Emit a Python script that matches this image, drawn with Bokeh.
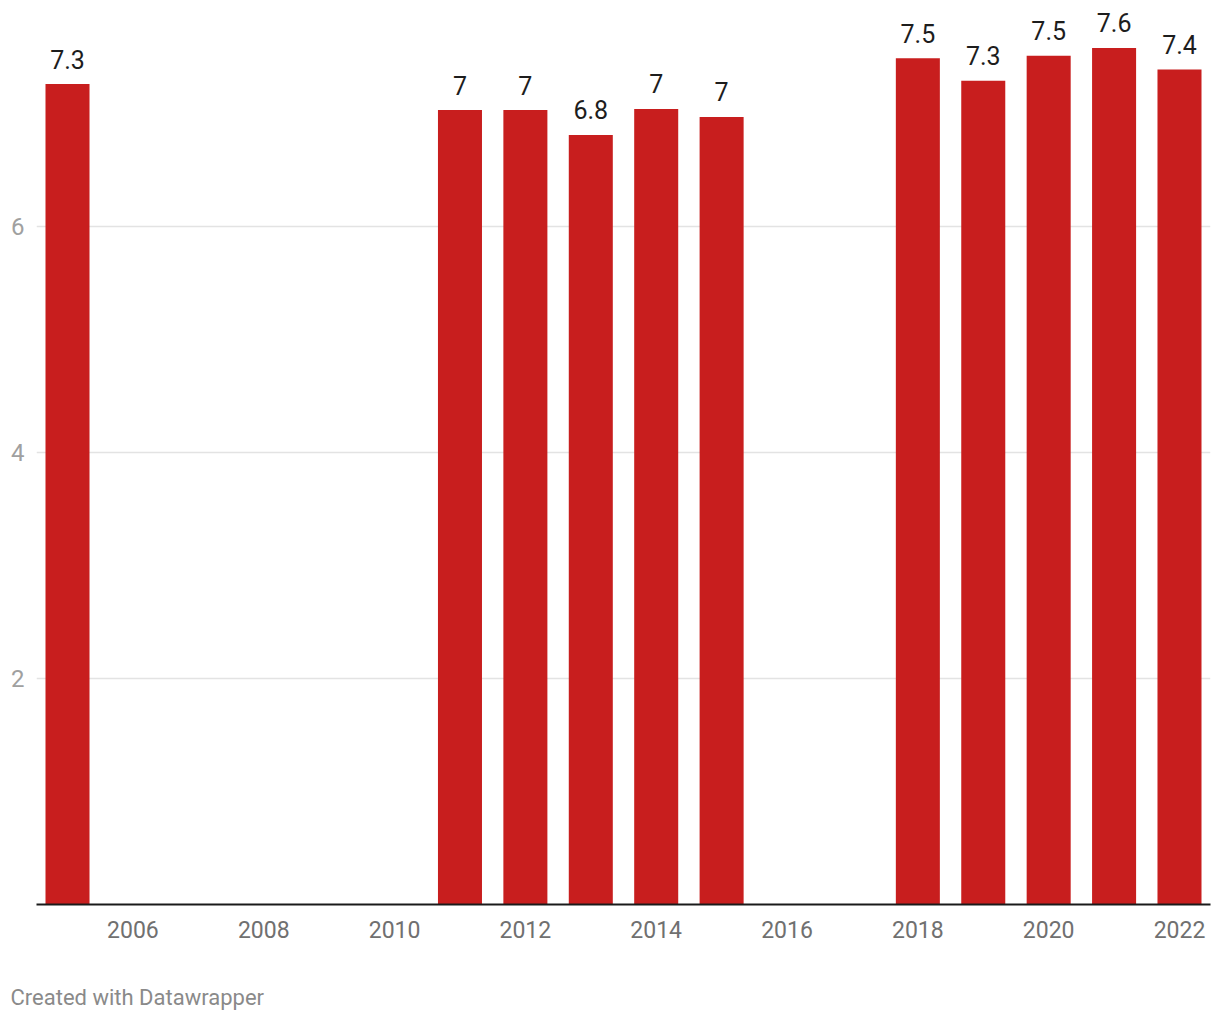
from bokeh.plotting import figure
from bokeh.models import ColumnDataSource, FixedTicker, Range1d, Title
from bokeh.embed import file_html
from bokeh.resources import INLINE
from bokeh.core.properties import value

# --- data ---
years = [2005, 2011, 2012, 2013, 2014, 2015, 2018, 2019, 2020, 2021, 2022]
values = [7.26, 7.03, 7.03, 6.81, 7.04, 6.97, 7.49, 7.29, 7.51, 7.58, 7.39]
labels = ["7.3", "7", "7", "6.8", "7", "7", "7.5", "7.3", "7.5", "7.6", "7.4"]
x_ticks = [2006, 2008, 2010, 2012, 2014, 2016, 2018, 2020, 2022]
y_ticks = [2, 4, 6]

FONT = "Roboto"
source = ColumnDataSource(dict(year=years, val=values, label=labels))

p = figure(
    width=1220, height=1020,
    x_range=Range1d(2004.526, 2022.474),
    y_range=Range1d(0, 8.0),
    output_backend="svg", toolbar_location=None,
    min_border_left=36, min_border_right=10, min_border_top=0, min_border_bottom=116,
)
p.outline_line_color = None
p.background_fill_color = "white"
p.border_fill_color = "white"

p.vbar(x="year", top="val", width=0.673, bottom=0, source=source,
       fill_color="#c81e1e", line_color=None)

p.text(x="year", y="val", text="label", source=source,
       text_align="center", text_baseline="alphabetic", y_offset=-25,
       text_font=value(FONT), text_font_size="25px", text_color="#1d1d1d")

# x axis
p.xaxis.ticker = FixedTicker(ticks=x_ticks)
p.xaxis.axis_line_color = "#1a1a1a"
p.xaxis.axis_line_width = 2
p.xaxis.major_tick_line_color = None
p.xaxis.major_tick_out = 0
p.xaxis.major_tick_in = 0
p.xaxis.minor_tick_line_color = None
p.xaxis.major_label_text_font = FONT
p.xaxis.major_label_text_font_size = "23px"
p.xaxis.major_label_text_color = "#707070"
p.xaxis.major_label_standoff = 16
p.xaxis.axis_label = " "
p.xaxis.axis_label_text_font_size = "10px"
p.xaxis.axis_label_standoff = 17
p.xgrid.grid_line_color = None

# y axis
p.yaxis.ticker = FixedTicker(ticks=y_ticks)
p.yaxis.axis_line_color = None
p.yaxis.major_tick_line_color = None
p.yaxis.major_tick_out = 0
p.yaxis.major_tick_in = 0
p.yaxis.minor_tick_line_color = None
p.yaxis.major_label_text_font = FONT
p.yaxis.major_label_text_font_size = "24px"
p.yaxis.major_label_text_color = "#a0a0a0"
p.yaxis.major_label_standoff = 12
p.ygrid.grid_line_color = "#e3e3e3"
p.ygrid.grid_line_width = 1.5

footer = Title(text="Created with Datawrapper", align="left", offset=-26,
               text_font=FONT, text_font_size="22px", text_font_style="normal",
               text_color="#8a8a8a", standoff=22)
p.add_layout(footer, "below")

open("out.html", "w").write(file_html(p, INLINE))
